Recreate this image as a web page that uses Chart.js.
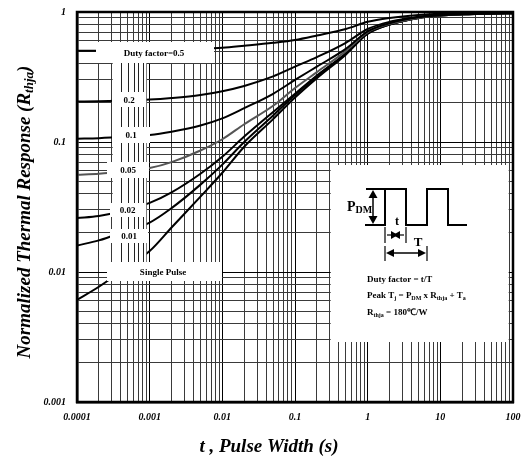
<!DOCTYPE html>
<html>
<head>
<meta charset="utf-8">
<script src="https://cdn.jsdelivr.net/npm/chart.js@4/dist/chart.umd.min.js"></script>
<style>
html,body{margin:0;padding:0;background:#fff;}
#wrap{width:522px;height:466px;position:relative;}
</style>
</head>
<body>
<div id="wrap"><canvas id="c" width="522" height="466"></canvas></div>
<script>
// ---- data ----
const pulseWidths = [1e-4, 2e-4, 5e-4, 1e-3, 2e-3, 5e-3, 1e-2, 2e-2, 5e-2, 0.1, 0.2, 0.5, 1, 2, 5, 10, 20, 50, 100];
const duty05  = [0.503,0.504,0.505,0.507,0.51,0.519,0.53,0.55,0.58,0.61,0.66,0.74,0.84,0.9,0.95,0.97,0.975,0.98,0.985];
const duty02  = [0.205,0.206,0.209,0.212,0.218,0.23,0.246,0.27,0.32,0.38,0.45,0.58,0.74,0.84,0.92,0.95,0.965,0.975,0.98];
const duty01  = [0.106,0.107,0.11,0.113,0.12,0.134,0.152,0.182,0.235,0.3,0.38,0.52,0.71,0.82,0.91,0.945,0.96,0.975,0.98];
const duty005 = [0.056,0.057,0.06,0.063,0.07,0.086,0.105,0.137,0.19,0.26,0.345,0.5,0.7,0.81,0.9,0.94,0.96,0.975,0.98];
const duty002 = [0.026,0.027,0.03,0.034,0.041,0.057,0.077,0.11,0.17,0.235,0.325,0.48,0.69,0.8,0.9,0.94,0.96,0.975,0.98];
const duty001 = [0.016,0.0175,0.021,0.024,0.031,0.047,0.067,0.1,0.16,0.23,0.32,0.48,0.68,0.8,0.9,0.94,0.96,0.975,0.98];
const singlePulse = [0.0061,0.0077,0.011,0.0145,0.022,0.038,0.058,0.092,0.15,0.22,0.31,0.47,0.68,0.8,0.9,0.94,0.96,0.975,0.98];

const xTickValues = [1e-4, 1e-3, 1e-2, 0.1, 1, 10, 100];
const xTickLabels = ['0.0001','0.001','0.01','0.1','1','10','100'];
const yTickValues = [1e-3, 1e-2, 0.1, 1];
const yTickLabels = ['0.001','0.01','0.1','1'];

const seriesLabels = ['Duty factor=0.5','0.2','0.1','0.05','0.02','0.01','Single Pulse'];
const seriesData = [duty05, duty02, duty01, duty005, duty002, duty001, singlePulse];
const seriesColors = ['#000','#000','#000','#555','#000','#000','#000'];

const xTitle = 't , Pulse Width (s)';
const yTitleMain = 'Normalized Thermal Response (R';
const yTitleSub = 'thja';

// ---- helpers ----
function allLogTicks(minExp, maxExp){
  const t=[];
  for(let e=minExp;e<maxExp;e++){ for(let m=1;m<10;m++){ t.push({value: m*Math.pow(10,e)}); } }
  t.push({value: Math.pow(10,maxExp)});
  return t;
}
function isMajor(v){ const l=Math.log10(v); return Math.abs(l-Math.round(l))<1e-6; }
function labelFor(vals, labs, v){
  const i = vals.findIndex(d=>Math.abs(d-v)/d<1e-6);
  return i>=0 ? labs[i] : '';
}
const SERIF = '"Liberation Serif","Times New Roman",serif';

function richText(ctx, x, y, runs, size, align){
  const subSize = Math.round(size*0.68);
  let w=0;
  runs.forEach(r=>{ ctx.font='bold '+(r[1]?subSize:size)+'px '+SERIF; w+=ctx.measureText(r[0]).width; });
  let cx = align==='center' ? x-w/2 : x;
  ctx.textBaseline='middle'; ctx.textAlign='left';
  runs.forEach(r=>{
    ctx.font='bold '+(r[1]?subSize:size)+'px '+SERIF;
    ctx.fillText(r[0], cx, y + (r[1]? size*0.28:0));
    cx += ctx.measureText(r[0]).width;
  });
}
function arrowHead(ctx, x, y, dx, dy, len, half){
  const px=-dy, py=dx;
  ctx.beginPath();
  ctx.moveTo(x,y);
  ctx.lineTo(x-dx*len+px*half, y-dy*len+py*half);
  ctx.lineTo(x-dx*len-px*half, y-dy*len-py*half);
  ctx.closePath(); ctx.fill();
}

const overlay = {
  id:'overlay',
  afterDatasetsDraw(chart){
    const ctx=chart.ctx, xs=chart.scales.x, ys=chart.scales.y, a=chart.chartArea;
    ctx.save();
    const cL = xs.getPixelForValue(3e-4), cR = xs.getPixelForValue(9e-4);
    ctx.fillStyle='#fff';
    ctx.fillRect(cL+1, 63, cR-cL-1, 262-63);
    ctx.strokeStyle='#222'; ctx.lineWidth=1;
    for(let m=4;m<=8;m++){
      const px=Math.round(xs.getPixelForValue(m*1e-4))+0.5;
      ctx.beginPath(); ctx.moveTo(px,63); ctx.lineTo(px,262); ctx.stroke();
    }
    const boxes = [
      [seriesLabels[0], 96, 42, 214, 63],
      [seriesLabels[1], 112, 92, 146, 107],
      [seriesLabels[2], 112, 127, 150, 143],
      [seriesLabels[3], 107, 162, 149, 178],
      [seriesLabels[4], 110, 203, 145, 217],
      [seriesLabels[5], 110, 229, 148, 243],
      [seriesLabels[6], 107, 262, 222, 281]
    ];
    boxes.forEach(b=>{
      ctx.fillStyle='#fff'; ctx.fillRect(b[1], b[2], b[3]-b[1], b[4]-b[2]);
      ctx.fillStyle='#000'; ctx.font='bold 9px '+SERIF; ctx.textAlign='center'; ctx.textBaseline='middle';
      let cx=(b[1]+b[3])/2;
      if(b[0]===seriesLabels[0]) cx=154;
      if(b[0]===seriesLabels[6]) cx=163;
      ctx.fillText(b[0], cx, (b[2]+b[4])/2+1);
    });
    const iL = xs.getPixelForValue(0.3)+1, iR = xs.getPixelForValue(90)-1;
    ctx.fillStyle='#fff'; ctx.fillRect(iL, 165, iR-iL, 342-165);
    ctx.strokeStyle='#000'; ctx.fillStyle='#000'; ctx.lineWidth=2;
    ctx.beginPath();
    ctx.moveTo(365,225); ctx.lineTo(385,225); ctx.lineTo(385,189); ctx.lineTo(406,189); ctx.lineTo(406,225);
    ctx.lineTo(427,225); ctx.lineTo(427,189); ctx.lineTo(448,189); ctx.lineTo(448,225); ctx.lineTo(467,225);
    ctx.stroke();
    ctx.beginPath(); ctx.moveTo(366,189); ctx.lineTo(385,189); ctx.stroke();
    ctx.lineWidth=1.5;
    ctx.beginPath(); ctx.moveTo(373,195); ctx.lineTo(373,219); ctx.stroke();
    arrowHead(ctx,373,190,0,-1,8,4.5); arrowHead(ctx,373,224,0,1,8,4.5);
    ctx.lineWidth=1.2;
    ctx.beginPath(); ctx.moveTo(385,227); ctx.lineTo(385,243); ctx.moveTo(406,227); ctx.lineTo(406,243); ctx.stroke();
    ctx.beginPath(); ctx.moveTo(387,235); ctx.lineTo(404,235); ctx.stroke();
    arrowHead(ctx,398,235,1,0,7,4); arrowHead(ctx,393,235,-1,0,7,4);
    ctx.beginPath(); ctx.moveTo(385,246); ctx.lineTo(385,261); ctx.moveTo(427,246); ctx.lineTo(427,261); ctx.stroke();
    ctx.lineWidth=1.5;
    ctx.beginPath(); ctx.moveTo(388,253); ctx.lineTo(424,253); ctx.stroke();
    arrowHead(ctx,386,253,-1,0,8,4); arrowHead(ctx,426,253,1,0,8,4);
    ctx.fillStyle='#000';
    richText(ctx, 347, 207, [['P',0],['DM',1]], 14, 'left');
    ctx.font='bold 12px '+SERIF; ctx.textAlign='center'; ctx.textBaseline='middle';
    ctx.fillText('t', 397, 222);
    ctx.font='bold 13px '+SERIF; ctx.fillText('T', 418, 243);
    richText(ctx, 367, 280, [['Duty factor = t/T',0]], 9, 'left');
    richText(ctx, 367, 296, [['Peak T',0],['j',1],[' = P',0],['DM',1],[' x R',0],['thja',1],[' + T',0],['a',1]], 9, 'left');
    richText(ctx, 367, 313, [['R',0],['thja',1],[' = 180℃/W',0]], 9, 'left');
    ctx.strokeStyle='#000'; ctx.lineWidth=2.5;
    ctx.strokeRect(a.left, a.top, a.right-a.left, a.bottom-a.top);
    ctx.restore();
  },
  afterDraw(chart){
    const ctx=chart.ctx;
    ctx.save();
    ctx.fillStyle='#000';
    ctx.font='bold italic 19px '+SERIF; ctx.textAlign='center'; ctx.textBaseline='middle';
    ctx.fillText(xTitle, 269, 447);
    ctx.translate(25, 212); ctx.rotate(-Math.PI/2);
    const fMain='bold italic 19px '+SERIF, fSub='bold italic 13px '+SERIF;
    ctx.font=fMain; const w1=ctx.measureText(yTitleMain).width; const w3=ctx.measureText(')').width;
    ctx.font=fSub; const w2=ctx.measureText(yTitleSub).width;
    let x=-(w1+w2+w3)/2;
    ctx.textAlign='left';
    ctx.font=fMain; ctx.fillText(yTitleMain, x, 0); x+=w1;
    ctx.font=fSub; ctx.fillText(yTitleSub, x, 5); x+=w2;
    ctx.font=fMain; ctx.fillText(')', x, 0);
    ctx.restore();
  }
};

const datasets = seriesLabels.map((lab,i)=>({
  label: lab,
  data: pulseWidths.map((x,j)=>({x:x, y:seriesData[i][j]})),
  borderColor: seriesColors[i],
  borderWidth: 2,
  pointRadius: 0,
  fill: false,
  cubicInterpolationMode: 'monotone'
}));

new Chart(document.getElementById('c'), {
  type: 'line',
  data: { datasets },
  options: {
    responsive: false,
    animation: false,
    layout: { padding: { left: 0, right: 9, top: 12, bottom: 0 } },
    plugins: { legend: { display: false }, tooltip: { enabled: false }, title: { display: false } },
    scales: {
      x: {
        type: 'logarithmic', min: 1e-4, max: 100,
        afterBuildTicks: s => { s.ticks = allLogTicks(-4, 2); },
        afterFit: s => { s.height = 64; s.paddingLeft = 0; s.paddingRight = 0; },
        grid: { color: c => isMajor(c.tick.value) ? '#000' : '#3a3a3a', lineWidth: 1, drawTicks: false },
        border: { display: true, color: '#000', width: 2.5 },
        ticks: {
          autoSkip: false, maxRotation: 0, padding: 9, color: '#000',
          font: { family: SERIF, size: 10, weight: 'bold', style: 'italic' },
          callback: v => labelFor(xTickValues, xTickLabels, v)
        }
      },
      y: {
        type: 'logarithmic', min: 1e-3, max: 1,
        afterBuildTicks: s => { s.ticks = allLogTicks(-3, 0); },
        afterFit: s => { s.width = 77; s.paddingTop = 0; s.paddingBottom = 0; },
        grid: { color: c => isMajor(c.tick.value) ? '#000' : '#3a3a3a', lineWidth: 1, drawTicks: false },
        border: { display: true, color: '#000', width: 2.5 },
        ticks: {
          autoSkip: false, padding: 11, color: '#000',
          font: { family: SERIF, size: 10, weight: 'bold', style: 'italic' },
          callback: v => labelFor(yTickValues, yTickLabels, v)
        }
      }
    }
  },
  plugins: [overlay]
});
</script>
</body>
</html>
